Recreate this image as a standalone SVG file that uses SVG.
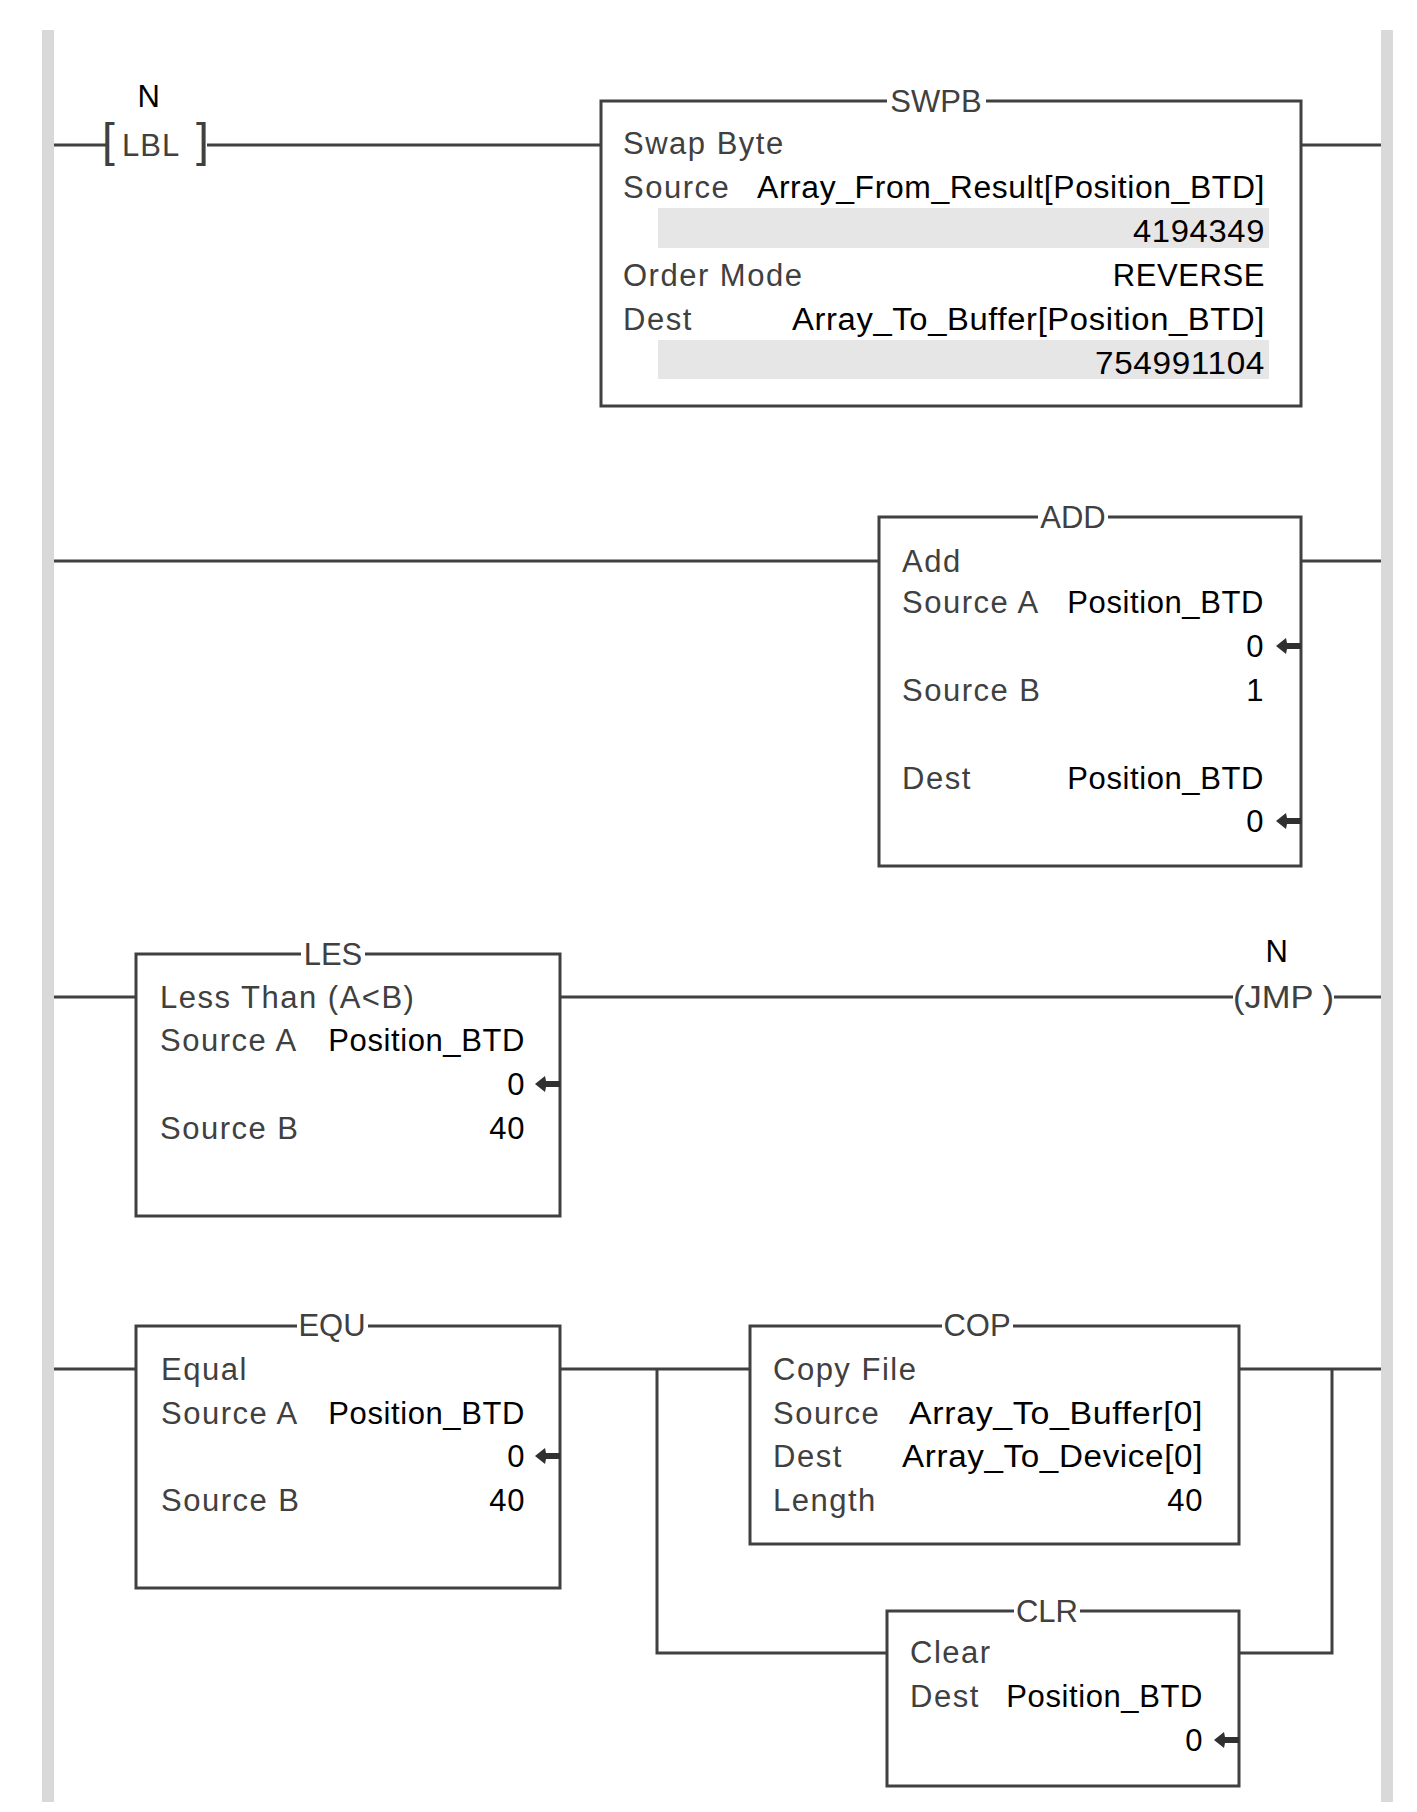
<svg xmlns="http://www.w3.org/2000/svg" width="1417" height="1812" viewBox="0 0 1417 1812">
<style>
.rail{fill:#d9d9d9}
.w{stroke:#404040;stroke-width:3;fill:none}
.box{fill:#ffffff;stroke:#404040;stroke-width:3}
.bar{fill:#e6e6e6}
.lab{font-family:"Liberation Sans",Arial,sans-serif;font-size:31px;fill:#404040;letter-spacing:1.5px}
.val{font-family:"Liberation Sans",Arial,sans-serif;font-size:31px;fill:#000000;text-anchor:end;letter-spacing:0.6px}
.ttl{font-family:"Liberation Sans",Arial,sans-serif;font-size:31px;fill:#404040;text-anchor:middle}
.tbg{fill:#ffffff}
.arr{fill:#303030}
</style>
<defs>
<path id="arrow" d="M-25,0 L-15,-8 L-14,-3 L0,-3 L0,3 L-14,3 L-15,8 Z"/>
</defs>
<rect width="1417" height="1812" fill="#ffffff"/>
<g id="rails">
<rect class="rail" x="42" y="30" width="12" height="1772"/>
<rect class="rail" x="1381" y="30" width="12" height="1772"/>
</g>
<g id="connectors">
<line class="w" x1="54" y1="145" x2="106" y2="145"/>
<line class="w" x1="207" y1="145" x2="601" y2="145"/>
<line class="w" x1="1301" y1="145" x2="1381" y2="145"/>
<line class="w" x1="54" y1="561" x2="879" y2="561"/>
<line class="w" x1="1301" y1="561" x2="1381" y2="561"/>
<line class="w" x1="54" y1="997" x2="136" y2="997"/>
<line class="w" x1="560" y1="997" x2="1233" y2="997"/>
<line class="w" x1="1334" y1="997" x2="1381" y2="997"/>
<line class="w" x1="54" y1="1369" x2="136" y2="1369"/>
<line class="w" x1="560" y1="1369" x2="750" y2="1369"/>
<line class="w" x1="1239" y1="1369" x2="1381" y2="1369"/>
<polyline class="w" points="657,1369 657,1653 887,1653"/>
<polyline class="w" points="1239,1653 1332,1653 1332,1369"/>
</g>
<g id="lbl">
<text class="val" x="149" y="107" style="text-anchor:middle">N</text>
<text class="lab" y="156" style="letter-spacing:0"><tspan x="102" font-size="46">[</tspan><tspan x="122" style="letter-spacing:1px">LBL </tspan><tspan x="196" font-size="46">]</tspan></text>
</g>
<g id="swpb">
<rect class="box" x="601" y="101" width="700" height="305"/>
<rect class="tbg" x="887" y="90" width="99" height="22"/>
<text class="ttl" x="936" y="112">SWPB</text>
<text class="lab" x="623" y="154">Swap Byte</text>
<text class="lab" x="623" y="198">Source</text>
<text class="val" x="1265" y="198" textLength="508" lengthAdjust="spacingAndGlyphs">Array_From_Result[Position_BTD]</text>
<rect class="bar" x="658" y="208" width="611" height="40"/>
<text class="val" x="1265" y="242" textLength="132" lengthAdjust="spacingAndGlyphs">4194349</text>
<text class="lab" x="623" y="286">Order Mode</text>
<text class="val" x="1265" y="286">REVERSE</text>
<text class="lab" x="623" y="330">Dest</text>
<text class="val" x="1265" y="330" textLength="473" lengthAdjust="spacingAndGlyphs">Array_To_Buffer[Position_BTD]</text>
<rect class="bar" x="658" y="340" width="611" height="39"/>
<text class="val" x="1265" y="374" textLength="170" lengthAdjust="spacingAndGlyphs">754991104</text>
</g>
<g id="add">
<rect class="box" x="879" y="517" width="422" height="349"/>
<rect class="tbg" x="1038" y="506" width="70" height="22"/>
<text class="ttl" x="1073" y="528">ADD</text>
<text class="lab" x="902" y="572">Add</text>
<text class="lab" x="902" y="613">Source A</text>
<text class="val" x="1264" y="613">Position_BTD</text>
<text class="val" x="1264" y="657">0</text>
<use href="#arrow" class="arr" x="1301" y="646"/>
<text class="lab" x="902" y="701">Source B</text>
<text class="val" x="1264" y="701">1</text>
<text class="lab" x="902" y="789">Dest</text>
<text class="val" x="1264" y="789">Position_BTD</text>
<text class="val" x="1264" y="832">0</text>
<use href="#arrow" class="arr" x="1301" y="821"/>
</g>
<g id="les">
<rect class="box" x="136" y="954" width="424" height="262"/>
<rect class="tbg" x="301" y="943" width="64" height="22"/>
<text class="ttl" x="333" y="965">LES</text>
<text class="lab" x="160" y="1008">Less Than (A&lt;B)</text>
<text class="lab" x="160" y="1051">Source A</text>
<text class="val" x="525" y="1051">Position_BTD</text>
<text class="val" x="525" y="1095">0</text>
<use href="#arrow" class="arr" x="560" y="1084"/>
<text class="lab" x="160" y="1139">Source B</text>
<text class="val" x="525" y="1139">40</text>
</g>
<g id="jmp">
<text class="val" x="1277" y="962" style="text-anchor:middle">N</text>
<text class="lab" x="1233" y="1008" textLength="101" lengthAdjust="spacingAndGlyphs" style="letter-spacing:0">(JMP )</text>
</g>
<g id="equ">
<rect class="box" x="136" y="1326" width="424" height="262"/>
<rect class="tbg" x="297" y="1315" width="71" height="22"/>
<text class="ttl" x="332" y="1336">EQU</text>
<text class="lab" x="161" y="1380">Equal</text>
<text class="lab" x="161" y="1424">Source A</text>
<text class="val" x="525" y="1424">Position_BTD</text>
<text class="val" x="525" y="1467">0</text>
<use href="#arrow" class="arr" x="560" y="1456"/>
<text class="lab" x="161" y="1511">Source B</text>
<text class="val" x="525" y="1511">40</text>
</g>
<g id="cop">
<rect class="box" x="750" y="1326" width="489" height="218"/>
<rect class="tbg" x="942" y="1315" width="71" height="22"/>
<text class="ttl" x="977" y="1336">COP</text>
<text class="lab" x="773" y="1380">Copy File</text>
<text class="lab" x="773" y="1424">Source</text>
<text class="val" x="1203" y="1424" textLength="294" lengthAdjust="spacingAndGlyphs">Array_To_Buffer[0]</text>
<text class="lab" x="773" y="1467">Dest</text>
<text class="val" x="1203" y="1467" textLength="301" lengthAdjust="spacingAndGlyphs">Array_To_Device[0]</text>
<text class="lab" x="773" y="1511">Length</text>
<text class="val" x="1203" y="1511">40</text>
</g>
<g id="clr">
<rect class="box" x="887" y="1611" width="352" height="175"/>
<rect class="tbg" x="1014" y="1600" width="66" height="22"/>
<text class="ttl" x="1047" y="1622">CLR</text>
<text class="lab" x="910" y="1663">Clear</text>
<text class="lab" x="910" y="1707">Dest</text>
<text class="val" x="1203" y="1707">Position_BTD</text>
<text class="val" x="1203" y="1751">0</text>
<use href="#arrow" class="arr" x="1239" y="1740"/>
</g>
</svg>
